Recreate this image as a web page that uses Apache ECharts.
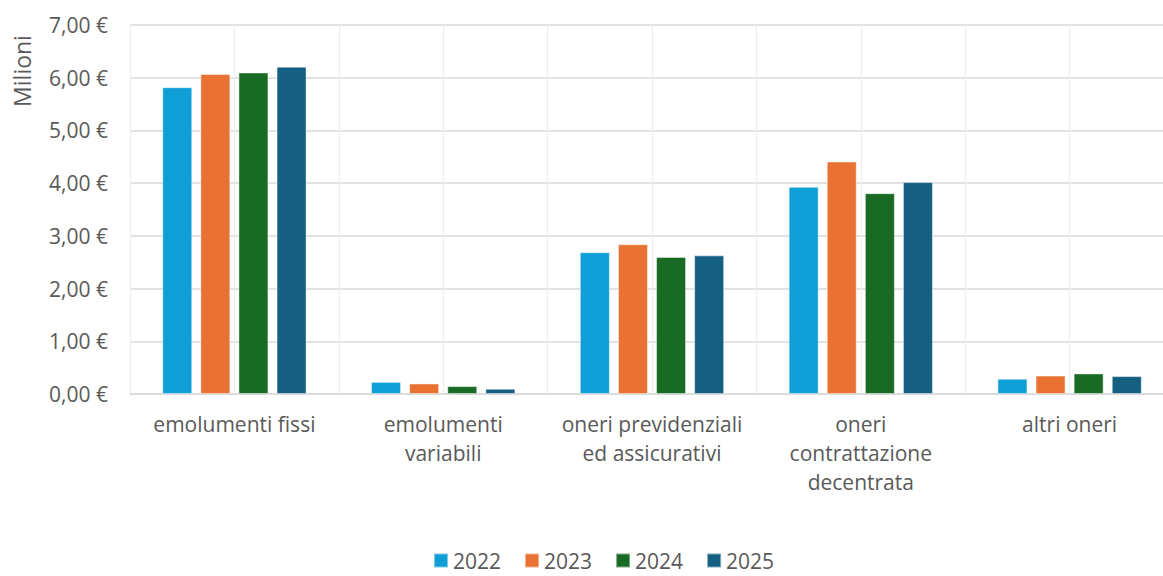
<!DOCTYPE html>
<html>
<head>
<meta charset="utf-8">
<script src="https://cdn.jsdelivr.net/npm/echarts@6/dist/echarts.min.js"></script>
<style>
  html, body { margin: 0; padding: 0; background: #ffffff; overflow: hidden; }
  #chart { width: 1163px; height: 576px; }
</style>
</head>
<body>
<div id="chart"></div>
<script>
// Voci di spesa del personale (milioni di euro)
const categories = [
  'emolumenti fissi',
  'emolumenti\nvariabili',
  'oneri previdenziali\ned assicurativi',
  'oneri\ncontrattazione\ndecentrata',
  'altri oneri'
];
const years = ['2022', '2023', '2024', '2025'];
const values2022 = [5.82, 0.23, 2.69, 3.93, 0.29];
const values2023 = [6.07, 0.20, 2.84, 4.41, 0.35];
const values2024 = [6.10, 0.15, 2.60, 3.81, 0.39];
const values2025 = [6.21, 0.10, 2.63, 4.02, 0.34];
const yTicks = [0, 1, 2, 3, 4, 5, 6, 7];

const seriesValues = [values2022, values2023, values2024, values2025];
const colors = ['#0F9ED5', '#E97132', '#196B24', '#156082'];
const textColor = '#595959';
const font = '"Open Sans", "Liberation Sans", sans-serif';

const euro = v => v.toFixed(2).replace('.', ',') + ' €';

const chart = echarts.init(document.getElementById('chart'), null, { renderer: 'svg' });

chart.setOption({
  animation: false,
  color: colors,
  textStyle: { fontFamily: font, color: textColor },
  // plot area runs past the right edge of the canvas
  grid: {
    left: 130, top: 25, height: 369, width: 1044,
    containLabel: false,
    outerBoundsMode: 'none'
  },
  legend: {
    data: years,
    top: 545,
    left: 428,
    itemWidth: 14,
    itemHeight: 14,
    itemGap: 23,
    icon: 'rect',
    textStyle: { fontSize: 21, lineHeight: 21, color: textColor, fontFamily: font }
  },
  xAxis: [
    {
      type: 'category',
      data: categories,
      axisTick: { show: false },
      axisLine: { show: true, lineStyle: { color: '#d9d9d9', width: 1.5 } },
      splitLine: { show: false },
      axisLabel: {
        color: textColor,
        fontSize: 21,
        fontFamily: font,
        lineHeight: 29,
        margin: 15,
        interval: 0
      }
    },
    {
      // half-category vertical guides
      type: 'value',
      min: 0,
      max: 10,
      interval: 1,
      position: 'bottom',
      axisLine: { show: false },
      axisTick: { show: false },
      axisLabel: { show: false },
      splitLine: { show: true, lineStyle: { color: '#eeeeee', width: 1.3 } }
    }
  ],
  yAxis: {
    type: 'value',
    min: yTicks[0],
    max: yTicks[yTicks.length - 1],
    interval: 1,
    axisLine: { show: false },
    axisTick: { show: false },
    splitLine: { show: true, lineStyle: { color: '#d9d9d9', width: 1.5 } },
    axisLabel: {
      color: textColor,
      fontSize: 21,
      fontFamily: font,
      margin: 22,
      formatter: euro
    }
  },
  graphic: [
    {
      type: 'text',
      x: 22,
      y: 71,
      rotation: Math.PI / 2,
      style: {
        text: 'Milioni',
        fill: textColor,
        font: '23px "Open Sans", "Liberation Sans", sans-serif',
        textAlign: 'center',
        textVerticalAlign: 'middle'
      }
    }
  ],
  series: years.map((y, i) => ({
    name: y,
    type: 'bar',
    xAxisIndex: 0,
    data: seriesValues[i],
    barWidth: 30,
    barGap: '27%',
    itemStyle: {
      color: colors[i],
      borderColor: 'rgba(255,255,255,0.45)',
      borderWidth: 1
    }
  }))
});
</script>
</body>
</html>
